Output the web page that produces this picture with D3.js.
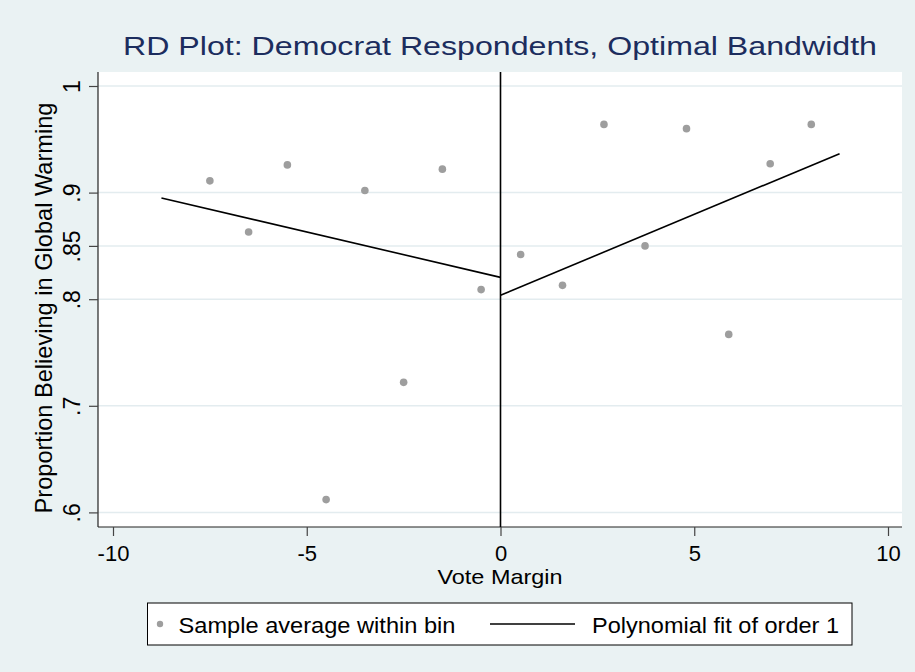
<!DOCTYPE html>
<html>
<head>
<meta charset="utf-8">
<script src="https://cdn.jsdelivr.net/npm/d3@7"></script>
<style>
  body { margin: 0; background: #eaf2f3; }
  text { font-family: "Liberation Sans", Arial, sans-serif; fill: #000; }
</style>
</head>
<body>
<div id="chart"></div>
<script>
// bin averages (x = vote margin bin centre, y = share believing)
var binX = [-7.5, -6.5, -5.5, -4.5, -3.5, -2.5, -1.5, -0.5, 0.52, 1.6, 2.67, 3.73, 4.8, 5.89, 6.96, 8.02];
var binY = [0.911, 0.863, 0.926, 0.612, 0.902, 0.722, 0.922, 0.809, 0.842, 0.813, 0.964, 0.850, 0.960, 0.767, 0.927, 0.964];

// linear fits on each side of the cutoff
var fitLeftX = [-8.75, 0];
var fitLeftY = [0.895, 0.8205];
var fitRightX = [0, 8.75];
var fitRightY = [0.8037, 0.9365];

var xTicks = [-10, -5, 0, 5, 10];
var yTicks = [0.6, 0.7, 0.8, 0.85, 0.9, 1];
var yTickLabels = [".6", ".7", ".8", ".85", ".9", "1"];

var cutoff = [0];
var legendLabels = ["Sample average within bin", "Polynomial fit of order 1"];

var W = 915, H = 672;
var plot = {left: 98, right: 902, top: 72, bottom: 527};

var x = d3.scaleLinear().domain([-10, 10]).range([113, 888]);
var y = d3.scaleLinear().domain([0.6, 1]).range([512.4, 86]);

var svg = d3.select("#chart").append("svg")
    .attr("width", W)
    .attr("height", H);

svg.append("rect")
    .attr("width", W).attr("height", H)
    .attr("fill", "#eaf2f3");

// plot region
svg.append("rect")
    .attr("x", plot.left).attr("y", plot.top)
    .attr("width", plot.right - plot.left)
    .attr("height", plot.bottom - plot.top)
    .attr("fill", "#fff");

// horizontal grid
svg.selectAll(".grid")
    .data(yTicks)
    .enter().append("line")
    .attr("class", "grid")
    .attr("x1", plot.left).attr("x2", plot.right)
    .attr("y1", function(d) { return y(d); })
    .attr("y2", function(d) { return y(d); })
    .attr("stroke", "#e3ecef")
    .attr("stroke-width", 1.5);

// Y axis
var yAxis = svg.append("g")
    .attr("transform", "translate(" + plot.left + ",0)")
    .call(d3.axisLeft(y).tickValues(yTicks)
      .tickSize(9).tickPadding(0)
      .tickFormat(function(d, i) { return yTickLabels[i]; }));
yAxis.select(".domain").attr("d", "M0," + plot.top + "V" + plot.bottom)
    .attr("stroke", "#222").attr("stroke-width", 1.2);
yAxis.selectAll(".tick line").attr("stroke", "#444").attr("stroke-width", 1.2);
yAxis.selectAll(".tick text")
    .attr("x", null).attr("dy", null)
    .attr("transform", "translate(-18,0) rotate(-90)")
    .attr("text-anchor", "middle")
    .style("font-size", "23px")
    .style("font-family", "'Liberation Sans', Arial, sans-serif")
    .attr("fill", "#000");

// X axis
var xAxis = svg.append("g")
    .attr("transform", "translate(0," + plot.bottom + ")")
    .call(d3.axisBottom(x).tickValues(xTicks)
      .tickSize(9).tickPadding(0)
      .tickFormat(d3.format("d")));
xAxis.select(".domain").attr("d", "M" + plot.left + ",0H" + plot.right)
    .attr("stroke", "#222").attr("stroke-width", 1.2);
xAxis.selectAll(".tick line").attr("stroke", "#444").attr("stroke-width", 1.2);
xAxis.selectAll(".tick text")
    .attr("y", 34).attr("dy", null)
    .style("font-size", "22px")
    .style("font-family", "'Liberation Sans', Arial, sans-serif")
    .attr("fill", "#000")
    .text(function(d) { return d < 0 ? "-" + Math.abs(d) : d; });

// cutoff line
svg.selectAll(".cutoff")
    .data(cutoff)
    .enter().append("line")
    .attr("class", "cutoff")
    .attr("x1", function(d) { return x(d); })
    .attr("x2", function(d) { return x(d); })
    .attr("y1", plot.top).attr("y2", plot.bottom)
    .attr("stroke", "#000")
    .attr("stroke-width", 1.6);

// fitted lines
var line = d3.line()
    .x(function(d) { return x(d[0]); })
    .y(function(d) { return y(d[1]); });

[[fitLeftX, fitLeftY], [fitRightX, fitRightY]].forEach(function(f) {
  svg.append("path")
      .datum(d3.zip(f[0], f[1]))
      .attr("d", line)
      .attr("fill", "none")
      .attr("stroke", "#000")
      .attr("stroke-width", 1.6);
});

// bin means
svg.selectAll(".dot")
    .data(d3.zip(binX, binY))
    .enter().append("circle")
    .attr("class", "dot")
    .attr("r", 3.8)
    .attr("cx", function(d) { return x(d[0]); })
    .attr("cy", function(d) { return y(d[1]); })
    .attr("fill", "#9e9e9e");

// title
svg.append("text")
    .attr("x", 500).attr("y", 55)
    .attr("text-anchor", "middle")
    .attr("textLength", 754)
    .attr("lengthAdjust", "spacingAndGlyphs")
    .style("font-size", "25px")
    .style("fill", "#1c2d5e")
    .text("RD Plot: Democrat Respondents, Optimal Bandwidth");

// axis titles
svg.append("text")
    .attr("x", 500).attr("y", 584)
    .attr("text-anchor", "middle")
    .attr("textLength", 125)
    .attr("lengthAdjust", "spacingAndGlyphs")
    .style("font-size", "21px")
    .text("Vote Margin");

svg.append("text")
    .attr("transform", "translate(52,308) rotate(-90)")
    .attr("text-anchor", "middle")
    .style("font-size", "23.6px")
    .text("Proportion Believing in Global Warming");

// legend
var lg = svg.append("g");
lg.append("rect")
    .attr("x", 147.5).attr("y", 603)
    .attr("width", 704.5).attr("height", 42)
    .attr("fill", "#fff")
    .attr("stroke", "#000")
    .attr("stroke-width", 1);
lg.append("circle")
    .attr("cx", 160).attr("cy", 624).attr("r", 3.2)
    .attr("fill", "#9e9e9e");
lg.append("text")
    .attr("x", 178.5).attr("y", 633)
    .attr("textLength", 277)
    .attr("lengthAdjust", "spacingAndGlyphs")
    .style("font-size", "22px")
    .text(legendLabels[0]);
lg.append("line")
    .attr("x1", 490).attr("x2", 575)
    .attr("y1", 624).attr("y2", 624)
    .attr("stroke", "#000").attr("stroke-width", 1.6);
lg.append("text")
    .attr("x", 592).attr("y", 633)
    .attr("textLength", 247)
    .attr("lengthAdjust", "spacingAndGlyphs")
    .style("font-size", "22px")
    .text(legendLabels[1]);
</script>
</body>
</html>
